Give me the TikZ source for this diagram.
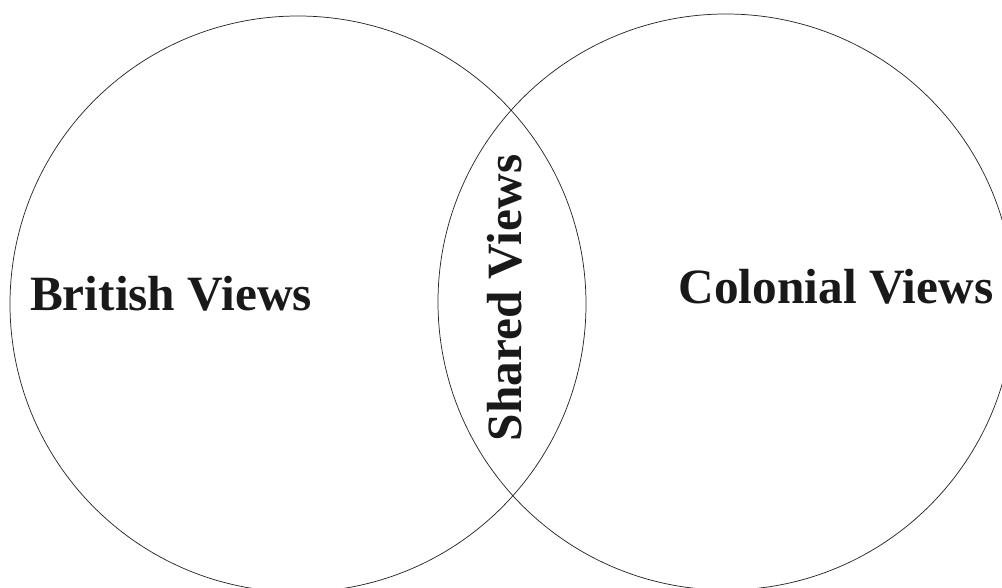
\documentclass[tikz,border=0pt]{standalone}
\usepackage{fontspec}
\setmainfont{Liberation Serif}
\begin{document}
\begin{tikzpicture}[x=0.75pt,y=-0.75pt,
  venn/.style={circle,draw=black!85,line width=0.55pt,minimum size=432pt,inner sep=0pt,outer sep=0pt},
  lab/.style={font=\fontsize{37}{41}\selectfont\bfseries,text=black!90,inner sep=0pt}]
\useasboundingbox (0,0) rectangle (1002,588);
\clip (0,0) rectangle (1002,588);
\node[venn] (L) at (298,304) {};
\node[venn] (R) at (726,302) {};
\node[lab,anchor=base] (brit) at (171,310) {British Views};
\node[lab,anchor=base] (col) at (836,303) {Colonial Views};
\node[lab,rotate=90,anchor=base] (shared) at (521,298) {Shared Views};
\end{tikzpicture}
\end{document}
